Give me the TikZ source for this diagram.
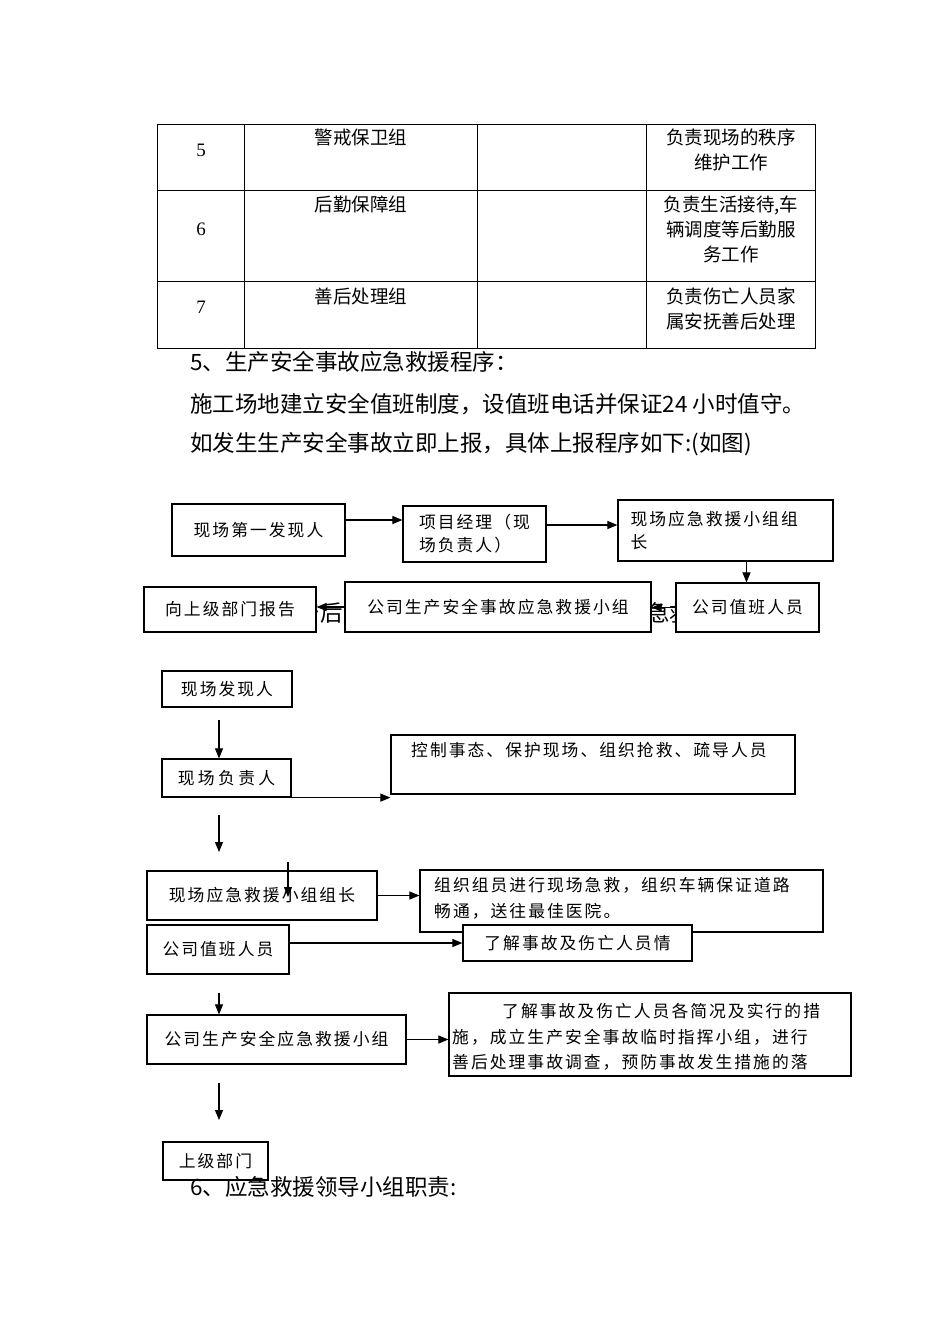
\documentclass[tikz,border=0pt]{standalone}
\usepackage{fontspec}
\setmainfont{Liberation Serif}
\newfontfamily\cjk{Noto Sans CJK SC}
\newfontfamily\fcfont[LetterSpace=12]{Noto Sans CJK SC}
\newfontfamily\fcwfont[LetterSpace=20]{Noto Sans CJK SC}
\usetikzlibrary{arrows.meta}
\tikzset{
  >={Triangle[length=10pt,width=8pt]},
  fcbox/.style={draw=black,line width=1.2pt,fill=white,inner sep=0pt,
    align=left,font=\fcfont\fontsize{16.8}{23}\selectfont},
  fctxt/.style={inner sep=0pt,anchor=north west,align=left,
    font=\fcfont\fontsize{16.8}{25.5}\selectfont},
  fcarrow/.style={->,line width=1.1pt},
  tblline/.style={line width=1pt},
  tbltxt/.style={inner sep=0pt,align=center,
    font=\cjk\fontsize{18.5}{25}\selectfont},
  tblnum/.style={inner sep=0pt,font=\fontsize{19}{22}\selectfont},
  bodytxt/.style={inner sep=0pt,anchor=west,
    font=\cjk\fontsize{22.5}{28}\selectfont},
}
\begin{document}
\begin{tikzpicture}[x=1pt,y=-1pt]
  \useasboundingbox (0,0) rectangle (950,1344);
  \fill[white] (0,0) rectangle (950,1344);

  % table rows 5--7
  \draw[tblline] (157,124) rectangle (815,348);
  \foreach \ry in {190,281} \draw[tblline] (157,\ry) -- (815,\ry);
  \foreach \cx in {244,477,646} \draw[tblline] (\cx,124) -- (\cx,348);
  \node[tblnum] (no5) at (201,150) {5};
  \node[tblnum] (no6) at (201,229) {6};
  \node[tblnum] (no7) at (201,307) {7};
  \node[tbltxt] (grp5) at (361,137) {警戒保卫组};
  \node[tbltxt] (grp6) at (361,204) {后勤保障组};
  \node[tbltxt] (grp7) at (361,296) {善后处理组};
  \node[tbltxt,anchor=north] (duty5) at (731,129) {负责现场的秩序\\维护工作};
  \node[tbltxt,anchor=north] (duty6) at (731,196) {负责生活接待,车\\辆调度等后勤服\\务工作};
  \node[tbltxt,anchor=north] (duty7) at (731,288) {负责伤亡人员家\\属安抚善后处理};

  % text
  \node[bodytxt] (sec5) at (190,362) {5、生产安全事故应急救援程序：};
  \node[bodytxt] (duty) at (190,404) {施工场地建立安全值班制度，设值班电话并保证24 小时值守。};
  \node[bodytxt] (rept) at (190,444) {如发生生产安全事故立即上报，具体上报程序如下:(如图)};

  % report chain
  \node[bodytxt,anchor=east] (hidA) at (343,613) {产后};
  \node[bodytxt] (hidB) at (647,613) {急救};
  \node[fcbox,minimum width=173pt,minimum height=52pt] (finder) at (258.5,530) {现场第一发现人};
  \node[fcbox,minimum width=143pt,minimum height=56pt] (pm) at (474.5,534) {项目经理（现\\场负责人）};
  \node[fcbox,minimum width=215pt,minimum height=61pt,text width=190pt] (leader) at (725.5,530.5) {现场应急救援小组组\\长};
  \node[fcbox,minimum width=143pt,minimum height=49pt] (duty1) at (747.5,607.5) {公司值班人员};
  \node[fcbox,minimum width=306pt,minimum height=50pt] (cogrp) at (498,607) {公司生产安全事故应急救援小组};
  \node[fcbox,minimum width=172pt,minimum height=45pt] (upper1) at (230,609.5) {向上级部门报告};
  \draw[fcarrow] ([yshift=10pt]finder.east) -- ([yshift=10pt]finder.east -| pm.west);
  \draw[fcarrow] ([yshift=9pt]pm.east) -- ([yshift=9pt]pm.east -| leader.west);
  \draw[fcarrow] ([xshift=21pt]leader.south) -- ([xshift=21pt]leader.south |- duty1.north);
  \draw[fcarrow] (duty1.west) -- (duty1.west -| cogrp.east);
  \draw[fcarrow] (cogrp.west) -- (cogrp.west -| upper1.east);

  % on-site procedure
  \node[fcbox,minimum width=130pt,minimum height=36pt] (seer) at (227,689) {现场发现人};
  \node[fcbox,minimum width=129pt,minimum height=38pt,font=\fcwfont\fontsize{16.8}{23}\selectfont] (head) at (226.5,778) {现场负责人};
  \node[fcbox,minimum width=404pt,minimum height=59pt] (ctrl) at (593,764.5) {};
  \node[fctxt] (ctrltxt) at (411,742.5) {控制事态、保护现场、组织抢救、疏导人员};
  \node[fcbox,minimum width=230pt,minimum height=49pt] (teamlead) at (262,895.5) {现场应急救援小组组长};
  \node[fcbox,minimum width=403pt,minimum height=62pt] (rescue) at (621.5,901) {};
  \node[fctxt] (rescuetxt) at (434,877.5) {组织组员进行现场急救，组织车辆保证道路\\畅通，送往最佳医院。};
  \node[fcbox,minimum width=142pt,minimum height=49pt] (duty2) at (218,949.5) {公司值班人员};
  \node[fcbox,minimum width=229pt,minimum height=36pt] (learn) at (577.5,943) {了解事故及伤亡人员情};
  \node[fcbox,minimum width=259pt,minimum height=49pt] (cogrp2) at (276.5,1039.5) {公司生产安全应急救援小组};
  \node[fcbox,minimum width=402pt,minimum height=83pt] (after) at (650,1034.5) {};
  \node[fctxt] (aftertxt) at (452,1003.5) {\hspace*{50pt}了解事故及伤亡人员各简况及实行的措\\施，成立生产安全事故临时指挥小组，进行\\善后处理事故调查，预防事故发生措施的落};
  \node[fcbox,minimum width=105pt,minimum height=38pt] (upper2) at (215.5,1161) {上级部门};

  \coordinate (dn1) at (219,720);
  \coordinate (dn2) at (219,815);
  \coordinate (dn2e) at (219,852);
  \coordinate (dn3) at (288,862);
  \coordinate (dn3e) at (288,897);
  \coordinate (dn4) at (219,993);
  \coordinate (dn5) at (219,1083);
  \coordinate (dn5e) at (219,1120);
  \draw[fcarrow] (dn1) -- (dn1 |- head.north);
  \draw[fcarrow] (head.south east) -- (head.south east -| ctrl.west);
  \draw[fcarrow] (dn2) -- (dn2e);
  \draw[fcarrow] (dn3) -- (dn3e);
  \draw[fcarrow] (teamlead.east) -- (teamlead.east -| rescue.west);
  \draw[fcarrow] (duty2.east |- learn.west) -- (learn.west);
  \draw[fcarrow] (dn4) -- (dn4 |- cogrp2.north);
  \draw[fcarrow] (cogrp2.east) -- (cogrp2.east -| after.west);
  \draw[fcarrow] (dn5) -- (dn5e);

  \node[bodytxt] (sec6) at (190,1187) {6、应急救援领导小组职责:};
\end{tikzpicture}
\end{document}
